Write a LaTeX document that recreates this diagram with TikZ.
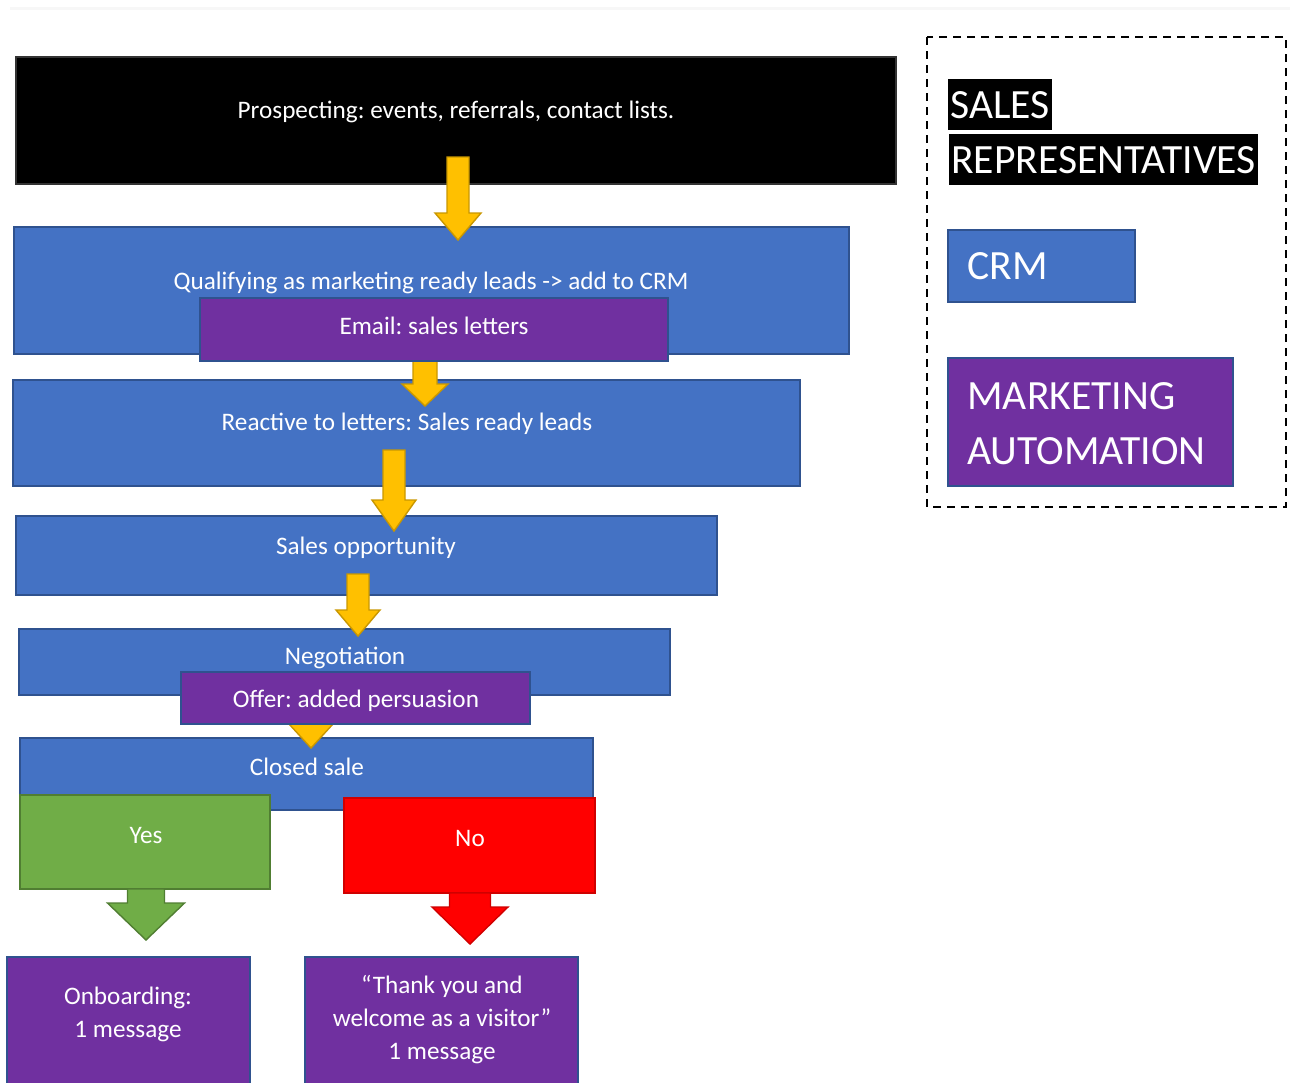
\documentclass[tikz,border=0pt]{standalone}
\usepackage{fontspec}
\setmainfont{Carlito}
\frenchspacing
\usetikzlibrary{positioning}

\definecolor{offblue}{HTML}{4472C4}
\definecolor{edgeblue}{HTML}{2F528F}
\definecolor{offpurple}{HTML}{7030A0}
\definecolor{offyellow}{HTML}{FFC000}
\definecolor{edgeyellow}{HTML}{C99700}
\definecolor{offgreen}{HTML}{70AD47}
\definecolor{edgegreen}{HTML}{507E32}
\definecolor{offred}{HTML}{FF0000}
\definecolor{edgered}{HTML}{D00000}

% block arrow: style, x, top, tip, half shaft, half head, head length
\newcommand{\blockarrow}[7]{%
  \draw[#1] ({#2-#5},#3) -- ({#2+#5},#3) -- ({#2+#5},{#4-#7}) -- ({#2+#6},{#4-#7})
    -- (#2,#4) -- ({#2-#6},{#4-#7}) -- ({#2-#5},{#4-#7}) -- cycle;}

\begin{document}
\begin{tikzpicture}[x=0.5pt, y=-0.5pt,
  box/.style={draw=edgeblue, line width=0.7pt, fill=offblue, inner sep=0pt},
  mabox/.style={box, fill=offpurple},
  txt/.style={text=white, align=center, inner sep=0pt, font=\fontsize{12.6}{16.5}\selectfont},
  big/.style={text=white, align=left, inner sep=0pt, font=\fontsize{20.8}{27.5}\selectfont},
  hilite/.style={big, fill=black, inner xsep=1pt, minimum height=25.5pt, text height=13.4pt, text depth=0pt, anchor=north west},
  yarrow/.style={fill=offyellow, draw=edgeyellow, line width=0.7pt},
  garrow/.style={fill=offgreen, draw=edgegreen, line width=0.7pt},
  rarrow/.style={fill=offred, draw=edgered, line width=0.7pt}]
\useasboundingbox (0,0) rectangle (1296,1082);
\draw[black!3, line width=1.5pt] (10,8) -- (1290,8);

% funnel stages
\node[box, fill=black, draw=black!80, minimum width=440pt, minimum height=63.5pt] (pros) at (456,120.5) {};
\node[txt] at (456,112) {Prospecting: events, referrals, contact lists.};
\node[box, minimum width=417.5pt, minimum height=63.5pt] (qual) at (431.5,290.5) {};
\node[txt] at (431,283) {Qualifying as marketing ready leads -> add to CRM};
\node[box, minimum width=393.5pt, minimum height=53pt] (react) at (406.5,433) {};
\node[txt] at (407,424) {Reactive to letters: Sales ready leads};
\node[box, minimum width=350.5pt, minimum height=39.5pt] (opp) at (366.5,555.5) {};
\node[txt] at (366,548) {Sales opportunity};
\node[box, minimum width=325.5pt, minimum height=33pt] (nego) at (344.5,662) {};
\node[txt] at (345,658) {Negotiation};
\node[box, minimum width=286.5pt, minimum height=36pt] (closed) at (306.5,774) {};
\node[txt] at (307,767) {Closed sale};

% yellow arrows between stages
\blockarrow{yarrow}{458}{157}{240}{11}{23}{27}
\blockarrow{yarrow}{425}{340}{406}{12}{23}{22}
\blockarrow{yarrow}{394}{450}{531}{11}{22}{31}
\blockarrow{yarrow}{358}{574}{636}{11}{22}{26}
\blockarrow{yarrow}{311}{700}{748}{11}{22}{24}

% automation steps on top
\node[mabox, minimum width=234pt, minimum height=31.5pt] (email) at (434,329.5) {};
\node[txt] at (434,326) {Email: sales letters};
\node[mabox, minimum width=174.5pt, minimum height=26pt] (offer) at (355.5,698) {};
\node[txt] at (356,701) {Offer: added persuasion};

% outcome
\node[box, fill=offgreen, draw=edgegreen, minimum width=125pt, minimum height=47pt] (yes) at (145,842) {};
\node[txt] at (146,835) {Yes};
\node[box, fill=offred, draw=edgered, minimum width=125.5pt, minimum height=47.5pt] (no) at (469.5,845.5) {};
\node[txt] at (470,838) {No};
\blockarrow{garrow}{146}{889}{940}{18.5}{38.5}{37}
\blockarrow{rarrow}{470}{893}{944}{20.5}{38}{37}

\node[mabox, minimum width=121.5pt, minimum height=66.5pt] (onb) at (128.5,1023.5) {};
\node[txt] at (128,1014) {Onboarding:\\1 message};
\node[mabox, minimum width=136.5pt, minimum height=66.5pt] (thx) at (441.5,1023.5) {};
\node[txt] at (442,1020) {“Thank you and\\welcome as a visitor”\\1 message};

% legend
\draw[dashed, line width=1pt, dash pattern=on 4pt off 3pt] (927,37) rectangle (1286,507);
\node[hilite] (sales) at (948,79) {SALES};
\node[hilite] (reps) at (949,134) {REPRESENTATIVES};
\node[box, minimum width=93.5pt, minimum height=36pt] (crm) at (1041.5,266) {};
\node[big, anchor=west] at (967,266) {CRM};
\node[mabox, minimum width=142.5pt, minimum height=64pt] (mkt) at (1090.5,422) {};
\node[big, anchor=west] at (967,424) {MARKETING\\AUTOMATION};
\end{tikzpicture}
\end{document}
